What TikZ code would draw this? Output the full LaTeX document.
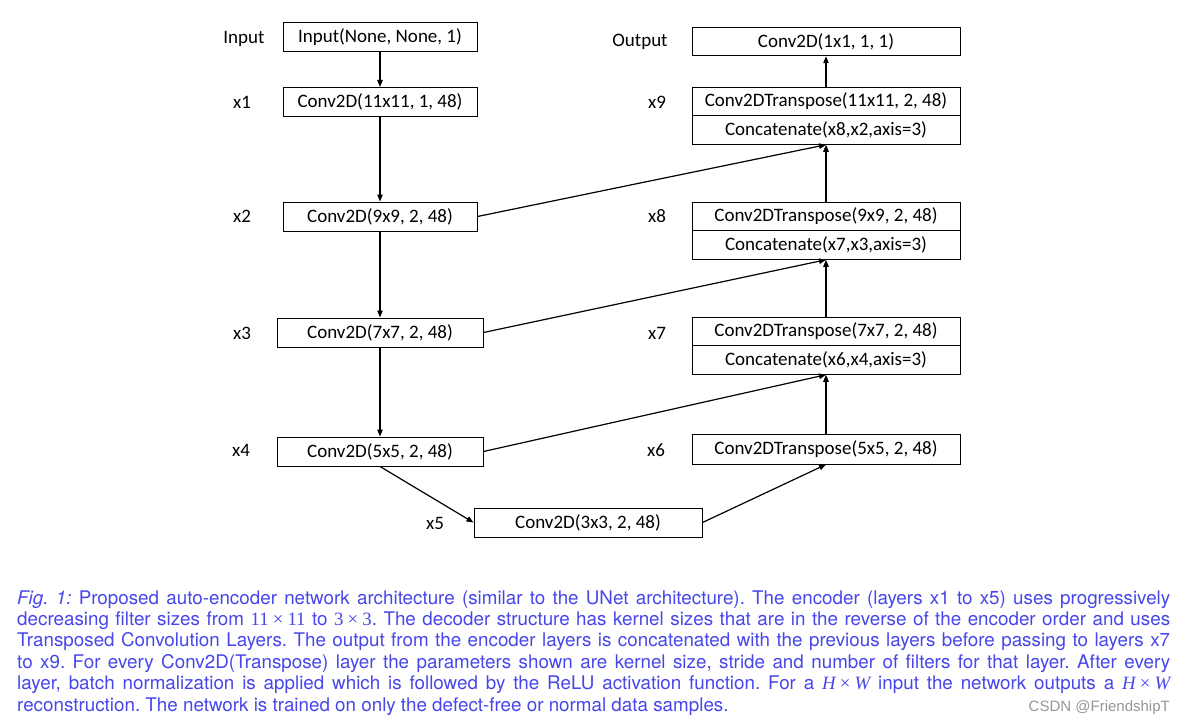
\documentclass[tikz,border=0pt]{standalone}
\usepackage{fontspec}
\setmainfont{Carlito}
\newfontfamily\capfont{TeX Gyre Heros}
\newfontfamily\capserif{Liberation Serif}
\newfontfamily\wmfont{Liberation Sans}
\usetikzlibrary{arrows.meta}
\definecolor{capblue}{RGB}{70,70,235}
\definecolor{wmgrey}{RGB}{150,150,150}
\newcommand{\tmsp}{\kern0.22em}
\begin{document}
\frenchspacing
\begin{tikzpicture}[x=1pt,y=-1pt,
  lay/.style={draw, line width=1pt, inner sep=0pt, minimum height=29pt, font=\fontsize{19}{22}\selectfont},
  encA/.style={lay, minimum width=194pt},
  encB/.style={lay, minimum width=206pt},
  encC/.style={lay, minimum width=228pt},
  dec/.style={lay, minimum width=268pt, minimum height=28.5pt},
  lbl/.style={inner sep=0pt, font=\fontsize{19}{22}\selectfont},
  conn/.style={line width=1.2pt, -{Triangle[length=7pt,width=5.5pt]}},
  capline/.style={inner sep=0pt, anchor=base west, text=capblue, font=\capfont\fontsize{18.8}{21}\selectfont},
]
\useasboundingbox (0,0) rectangle (1187,725);

% encoder
\node[encA] (in) at (380,37.5) {Input(None, None, 1)};
\node[encA] (x1) at (380,102) {Conv2D(11x11, 1, 48)};
\node[encA] (x2) at (380,216.5) {Conv2D(9x9, 2, 48)};
\node[encB] (x3) at (380,332.5) {Conv2D(7x7, 2, 48)};
\node[encB] (x4) at (380,451.5) {Conv2D(5x5, 2, 48)};
\node[encC] (x5) at (588,522.5) {Conv2D(3x3, 2, 48)};

% decoder
\node[dec] (out) at (826,41.5) {Conv2D(1x1, 1, 1)};
\node[dec] (x9a) at (826,101.5) {Conv2DTranspose(11x11, 2, 48)};
\node[dec] (x9b) at (826,130) {Concatenate(x8,x2,axis=3)};
\node[dec] (x8a) at (826,216.5) {Conv2DTranspose(9x9, 2, 48)};
\node[dec] (x8b) at (826,245) {Concatenate(x7,x3,axis=3)};
\node[dec] (x7a) at (826,331.5) {Conv2DTranspose(7x7, 2, 48)};
\node[dec] (x7b) at (826,360) {Concatenate(x6,x4,axis=3)};
\node[dec, minimum height=30pt] (x6) at (826,449) {Conv2DTranspose(5x5, 2, 48)};

% labels
\node[lbl] (lin) at (244,39) {Input};
\node[lbl] (l1) at (242,102) {x1};
\node[lbl] (l2) at (242,216) {x2};
\node[lbl] (l3) at (242,333) {x3};
\node[lbl] (l4) at (241,450) {x4};
\node[lbl] (l5) at (435,523) {x5};
\node[lbl] (l6) at (656,450) {x6};
\node[lbl] (l7) at (657,333) {x7};
\node[lbl] (l8) at (657,216) {x8};
\node[lbl] (l9) at (657,102) {x9};
\node[lbl] (lout) at (640,42) {Output};

% connectors
\draw[conn] (in) -- (x1);
\draw[conn] (x1) -- (x2);
\draw[conn] (x2) -- (x3);
\draw[conn] (x3) -- (x4);
\draw[conn] (x4.south) -- (x5.west);
\draw[conn] (x5.east) -- (x6.south);
\draw[conn] (x6) -- (x7b);
\draw[conn] (x4.east) -- (x7b.south);
\draw[conn] (x7a) -- (x8b);
\draw[conn] (x3.east) -- (x8b.south);
\draw[conn] (x8a) -- (x9b);
\draw[conn] (x2.east) -- (x9b.south);
\draw[conn] (x9a) -- (out);

% caption
\node[capline] (c1) at (17,604) {\makebox[1153pt][s]{\textit{Fig. 1:} Proposed auto-encoder network architecture (similar to the UNet architecture). The encoder (layers x1 to x5) uses progressively}};
\node[capline] (c2) at (17,625.4) {\makebox[1153pt][s]{decreasing filter sizes from {\capserif 11\tmsp×\tmsp11} to {\capserif 3\tmsp×\tmsp3}. The decoder structure has kernel sizes that are in the reverse of the encoder order and uses}};
\node[capline] (c3) at (17,646.8) {\makebox[1153pt][s]{Transposed Convolution Layers. The output from the encoder layers is concatenated with the previous layers before passing to layers x7}};
\node[capline] (c4) at (17,668.2) {\makebox[1153pt][s]{to x9. For every Conv2D(Transpose) layer the parameters shown are kernel size, stride and number of filters for that layer. After every}};
\node[capline] (c5) at (17,689.6) {\makebox[1153pt][s]{layer, batch normalization is applied which is followed by the ReLU activation function. For a {\capserif\itshape H}\tmsp{\capserif ×}\tmsp{\capserif\itshape W} input the network outputs a {\capserif\itshape H}\tmsp{\capserif ×}\tmsp{\capserif\itshape W}}};
\node[capline] (c6) at (17,711) {reconstruction. The network is trained on only the defect-free or normal data samples.};
\node[inner sep=0pt, anchor=base east, text=wmgrey, font=\wmfont\fontsize{15}{18}\selectfont] (wm) at (1170,711) {CSDN @FriendshipT};
\end{tikzpicture}
\end{document}
